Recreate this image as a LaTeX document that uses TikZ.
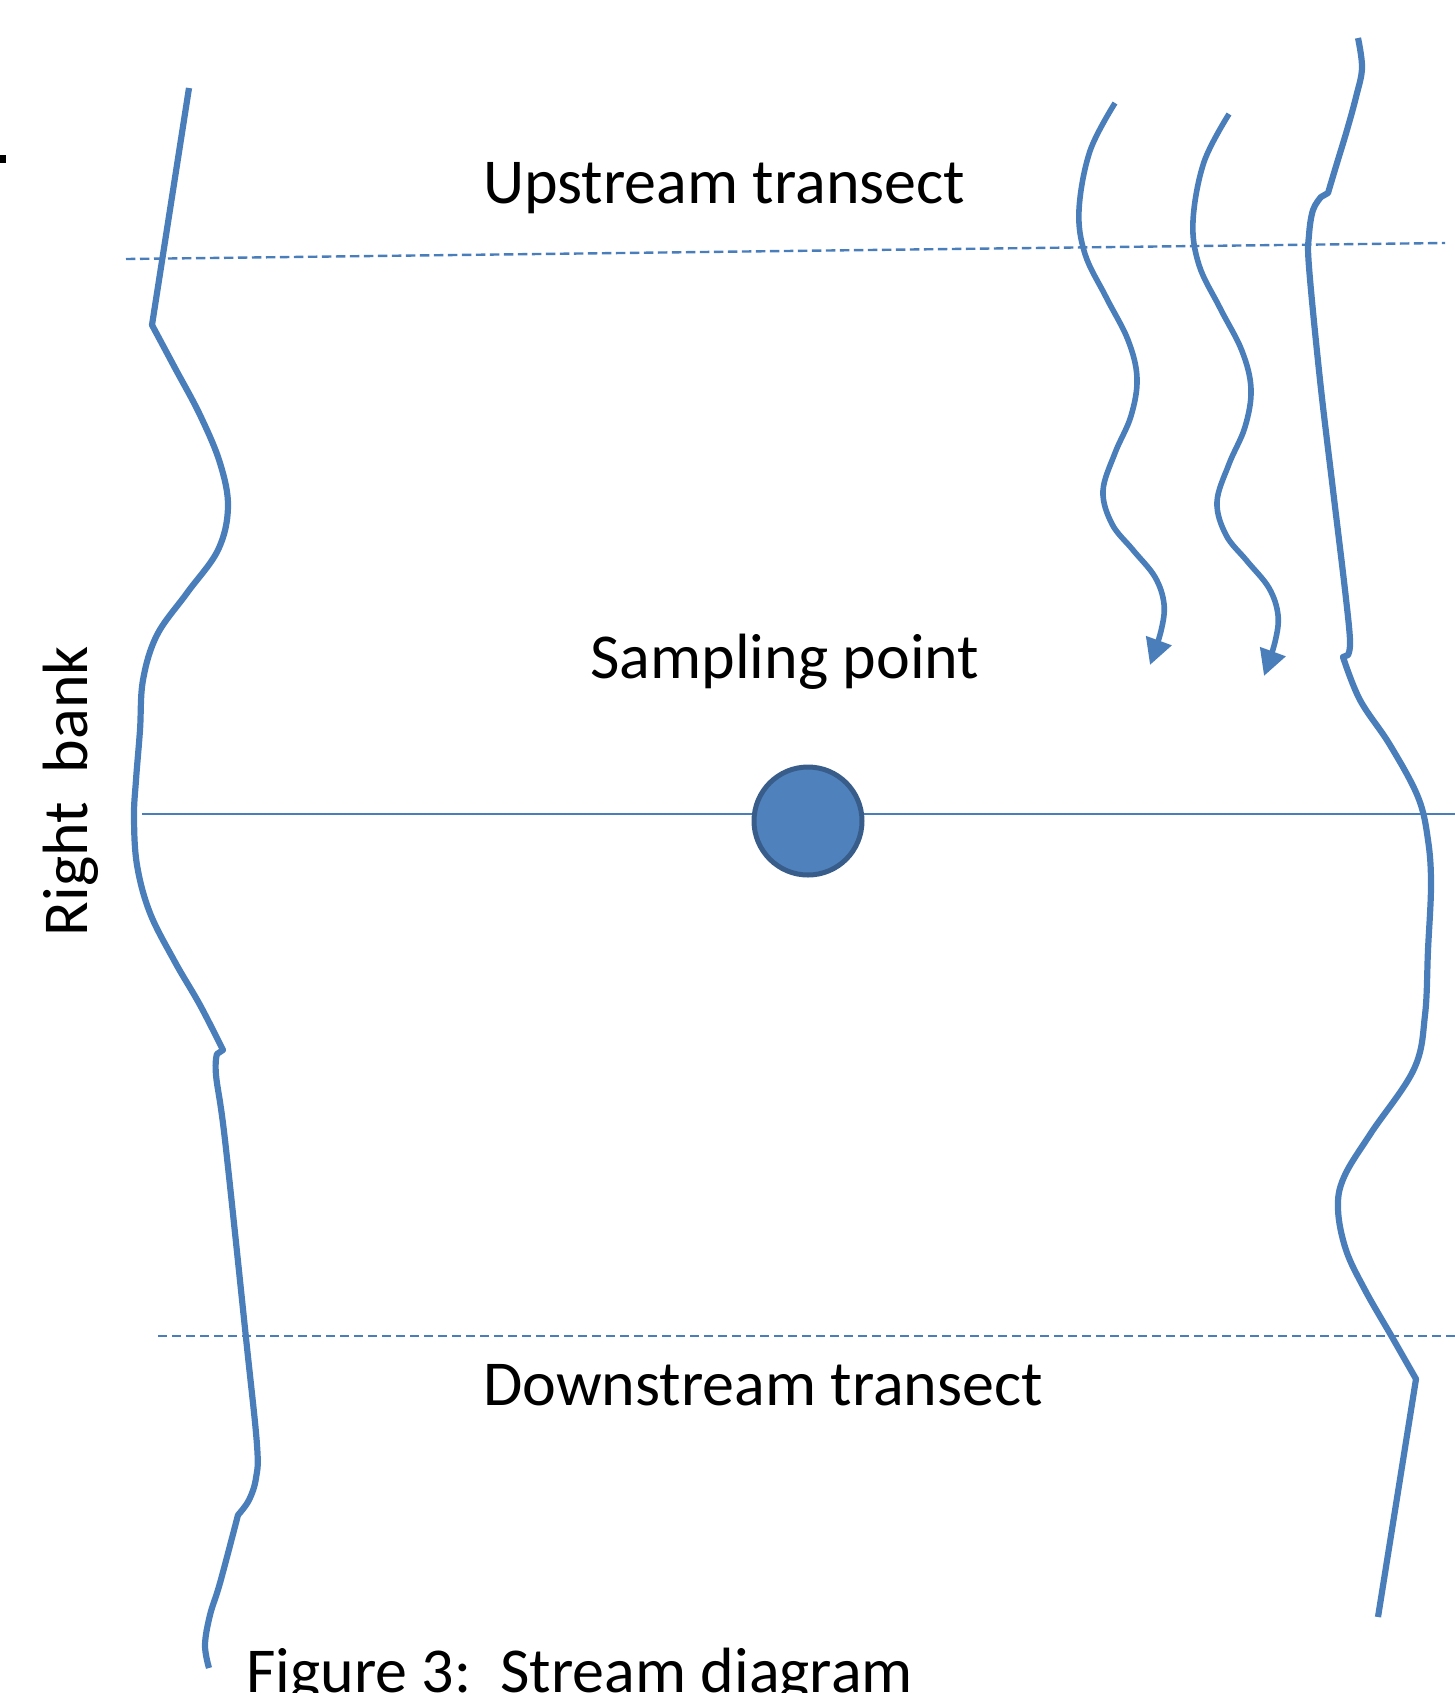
\documentclass[tikz,border=0pt]{standalone}
\usepackage{fontspec}
\setmainfont{Carlito}
\usetikzlibrary{arrows.meta}
\definecolor{bankblue}{HTML}{4A7EBB}
\definecolor{dotfill}{HTML}{4F81BD}
\definecolor{dotline}{HTML}{385D8A}

\begin{document}
\begin{tikzpicture}[x=0.5pt,y=-0.5pt,
  bank/.style={draw=bankblue, line width=3.1pt, line join=round},
  flow/.style={draw=bankblue, line width=2.8pt, -{Triangle[length=13pt,width=13pt]}},
  transect/.style={draw=bankblue, line width=1.2pt, dash pattern=on 4.7pt off 2.3pt},
  crossline/.style={draw=bankblue, line width=1pt},
  label/.style={font=\fontsize{32}{38}\selectfont, inner sep=0pt, text=black},
]
\useasboundingbox (0,0) rectangle (1455,1693);
\clip (0,0) rectangle (1455,1693);

% stray mark at the left edge
\fill[black] (0,155) rectangle (6,163);

% transects
\draw[transect] (126,259) -- (1445,243);
\draw[transect] (158,1336) -- (1455,1336);
\draw[crossline] (142,814) -- (1455,814);

% left edge of the stream
\draw[bank] (189,88) -- (152,325)
  -- plot[smooth, tension=0.6] coordinates {(152,325) (175,368) (200,415) (220,463) (228,507)
     (218,550) (187,593) (157,635) (143,680) (140,730) (136,780) (134,817) (137,865)
     (150,913) (175,962) (200,1005) (223,1050)}
  -- (217,1054)
  -- plot[smooth, tension=0.6] coordinates {(217,1054) (216,1075) (225,1140) (246,1338)
     (257,1445) (256,1478) (249,1500) (238,1515)}
  -- plot[smooth, tension=0.6] coordinates {(238,1515) (220,1583) (210,1615) (205,1645) (209,1668)};

% right edge of the stream
\draw[bank] plot[smooth, tension=0.6] coordinates {(1358,38) (1362,68) (1356,97) (1347,130)
     (1337,163) (1328,193)}
  -- (1321,197)
  -- plot[smooth, tension=0.6] coordinates {(1321,197) (1313,210) (1309,235) (1309,267)
     (1320,380) (1333,490) (1345,590) (1350,640) (1348,655)}
  -- (1343,657)
  -- plot[smooth, tension=0.6] coordinates {(1343,657) (1360,700) (1390,745) (1418,797)
     (1428,840) (1431,885) (1428,950) (1425,1015) (1414,1069) (1371,1133) (1344,1177)
     (1338,1209) (1346,1250) (1365,1290) (1392,1337) (1416,1379)}
  -- (1378,1617);

% flow arrows
\draw[flow] plot[smooth, tension=0.6] coordinates {(1115,103) (1090,151) (1079,210) (1085,254)
   (1106,297) (1128,340) (1137,378) (1131,416) (1115,453) (1103,491) (1112,524) (1133,550)
   (1155,577) (1164,604) (1161,631) (1150,665)};
\begin{scope}[shift={(114,11)}]
\draw[flow] plot[smooth, tension=0.6] coordinates {(1115,103) (1090,151) (1079,210) (1085,254)
   (1106,297) (1128,340) (1137,378) (1131,416) (1115,453) (1103,491) (1112,524) (1133,550)
   (1155,577) (1164,604) (1161,631) (1150,665)};
\end{scope}

% sampling point
\node[circle, fill=dotfill, draw=dotline, line width=2.5pt, minimum size=54pt, inner sep=0pt]
  (sp) at (808,821) {};

% labels
\node[label, anchor=base] (up) at (724,203) {Upstream transect};
\node[label, anchor=base] (samp) at (785,678) {Sampling point};
\node[label, anchor=base] (down) at (763,1405) {Downstream transect};
\node[label, anchor=base, rotate=90] (rb) at (87,791) {Right\ \ bank};
\node[label, anchor=base west] (cap) at (246,1692) {Figure 3:\ \ Stream diagram};
\end{tikzpicture}
\end{document}
